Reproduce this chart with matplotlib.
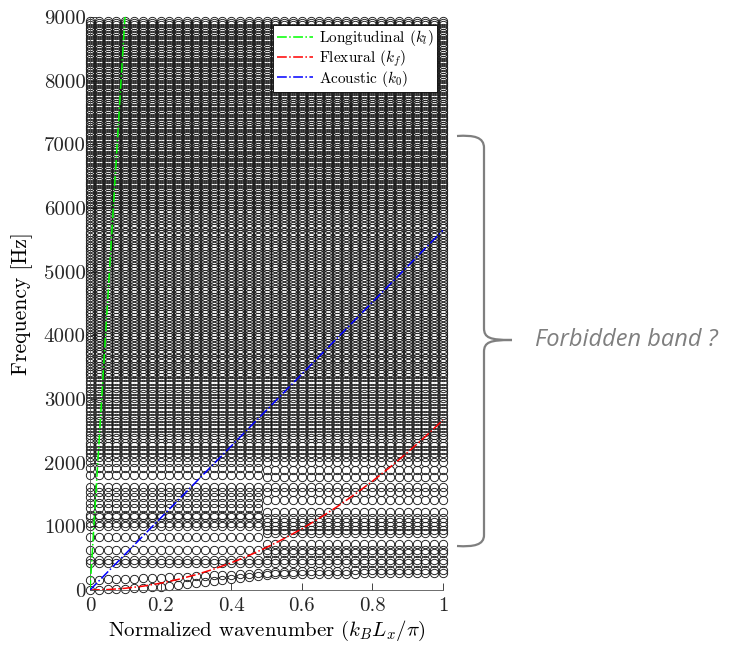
import numpy as np
import matplotlib
matplotlib.use("Agg")
import matplotlib.pyplot as plt
from matplotlib.path import Path
from matplotlib.patches import PathPatch

plt.rcParams['font.family'] = 'cmr10'
plt.rcParams['mathtext.fontset'] = 'cm'
plt.rcParams['axes.formatter.use_mathtext'] = True
plt.rcParams['axes.unicode_minus'] = False

# columnas de numero de onda normalizado
k_B = np.linspace(0, 1, 41)

# ramas bajas (una frecuencia por columna)
rama_1 = [0, 5, 10, 15, 20, 25, 32, 40, 50, 62, 75, 90, 105, 120, 135, 150, 170, 190, 210, 225, 240,
          245, 248, 250, 252, 254, 255, 256, 257, 258, 259, 260, 260, 261, 262, 262, 263, 263, 264, 264, 265]
rama_2 = [150, 160, 165, 170, 175, 180, 185, 190, 195, 200, 205, 210, 215, 220, 228, 235, 242, 250, 258, 265, 272,
          278, 283, 287, 291, 295, 298, 301, 303, 305, 307, 309, 310, 311, 312, 313, 314, 315, 315, 316, 316]

# modos comunes a todas las columnas
modos_comunes = [430, 465, 630, 1000, 1545, 1625, 2015, 2090]
modos_izq = [840, 1055, 1150, 1180, 1285, 1365, 1460, 1805, 1910]        # k < 0.5
modos_der = [580, 720, 895, 940, 1070, 1130, 1225, 1415, 1780, 1885]     # k >= 0.5
modos_densos = [
    2150, 2200, 2265, 2310, 2380, 2430, 2475, 2540, 2590, 2650, 2700, 2745, 2810, 2860, 2915, 2970,
    3020, 3075, 3130, 3180, 3240, 3290, 3340, 3385, 3430, 3470, 3520, 3565, 3610, 3650, 3700, 3745,
    3790, 3830, 3880, 3925, 3970, 4010, 4060, 4105, 4150, 4190, 4240, 4285, 4330, 4370, 4420, 4465,
    4510, 4550, 4600, 4645, 4690, 4730, 4780, 4825, 4870, 4910, 4960, 5005, 5050, 5090, 5140, 5185,
    5230, 5270, 5320, 5365, 5410, 5450, 5500, 5545, 5590, 5630, 5680, 5725, 5770, 5810, 5860, 5905,
    5950, 5990, 6030, 6070, 6110, 6145, 6185, 6225, 6260, 6300, 6340, 6375, 6415, 6455, 6490, 6530,
    6570, 6605, 6645, 6685, 6720, 6760, 6800, 6835, 6875, 6915, 6950, 6990, 7030, 7065, 7105, 7145,
    7180, 7220, 7260, 7295, 7335, 7375, 7410, 7450, 7490, 7525, 7565, 7605, 7640, 7680, 7720, 7755,
    7795, 7835, 7870, 7910, 7950, 7985, 8025, 8065, 8100, 8140, 8180, 8215, 8255, 8295, 8330, 8370,
    8410, 8445, 8485, 8525, 8560, 8600, 8640, 8675, 8715, 8755, 8790, 8830, 8870, 8905, 8945]

# curvas de dispersion teoricas
k_long = [0, 0.099]
f_long = [0, 9000]
k_acus = [0, 1]
f_acus = [0, 5650]
k_flex = [0, 0.05, 0.1, 0.15, 0.2, 0.25, 0.3, 0.35, 0.4, 0.45, 0.5, 0.55, 0.6, 0.65, 0.7, 0.75, 0.8, 0.85, 0.9, 0.95, 1.0]
f_flex = [0, 7, 27, 60, 107, 167, 240, 327, 427, 541, 668, 808, 961, 1128, 1308, 1502, 1709, 1929, 2163, 2410, 2670]

fig = plt.figure(figsize=(7.29, 6.47), dpi=100)
ax = fig.add_axes([90 / 729, 57 / 647, 353 / 729, 573 / 647])

xs, ys = [], []
for i, k in enumerate(k_B):
    modos = [rama_1[i], rama_2[i]] + modos_comunes + (modos_izq if k < 0.5 else modos_der) + modos_densos
    xs += [k] * len(modos)
    ys += modos

ax.plot(xs, ys, 'o', mfc='none', mec='#1a1a1a', mew=0.65, ms=6.0, ls='none', clip_on=False, zorder=2)

ax.plot(k_long, f_long, '-.', color=(0, 1, 0), lw=1.1, label=r'Longitudinal $(k_l)$', zorder=3)
ax.plot(k_flex, f_flex, '-.', color=(1, 0, 0), lw=1.1, label=r'Flexural $(k_f)$', zorder=3)
ax.plot(k_acus, f_acus, '-.', color=(0, 0, 1), lw=1.1, label=r'Acoustic $(k_0)$', zorder=3)

ax.set_xlim(0, 1)
ax.set_ylim(0, 9000)
ax.set_xticks([0, 0.2, 0.4, 0.6, 0.8, 1])
ax.set_xticklabels(['0', '0.2', '0.4', '0.6', '0.8', '1'])
ax.set_yticks(range(0, 9001, 1000))
ax.set_yticklabels([str(v) for v in range(0, 9001, 1000)])
ax.tick_params(direction='in', length=5, width=0.6, labelsize=15, colors='#262626', pad=5)
ax.tick_params(axis='y', pad=3)
ax.spines['top'].set_visible(False)
ax.spines['right'].set_visible(False)
for s in ['left', 'bottom']:
    ax.spines[s].set_color('#555555')
    ax.spines[s].set_linewidth(0.6)
ax.set_xlabel(r'Normalized wavenumber $(k_B L_x/\pi)$', fontsize=15, labelpad=3)
ax.set_ylabel('Frequency [Hz]', fontsize=15.5, labelpad=8)

leg = ax.legend(loc='upper right', bbox_to_anchor=(0.983, 0.986), fontsize=11, fancybox=False,
                framealpha=1, edgecolor='black', handlelength=2.4, borderpad=0.2, labelspacing=0.0,
                handletextpad=0.4, borderaxespad=0)
leg.get_frame().set_linewidth(0.6)
leg.set_zorder(5)

# llave y texto a la derecha
over = fig.add_axes([0, 0, 1, 1])
over.set_xlim(0, 729)
over.set_ylim(647, 0)
over.axis('off')
verts = [(457, 136), (474, 135), (484, 137), (484, 148),
         (484, 328),
         (484, 338), (490, 340), (512, 340),
         (490, 340), (484, 342), (484, 352),
         (484, 535),
         (484, 545), (474, 547), (457, 546)]
codes = [Path.MOVETO, Path.CURVE4, Path.CURVE4, Path.CURVE4,
         Path.LINETO,
         Path.CURVE4, Path.CURVE4, Path.CURVE4,
         Path.CURVE4, Path.CURVE4, Path.CURVE4,
         Path.LINETO,
         Path.CURVE4, Path.CURVE4, Path.CURVE4]
over.add_patch(PathPatch(Path(verts, codes), fill=False, ec='#7f7f7f', lw=1.6))
over.text(535, 340, 'Forbidden band ?', fontsize=17, family='Open Sans', style='italic',
          color='#7f7f7f', ha='left', va='center')

fig.savefig('out.png', dpi=100)
